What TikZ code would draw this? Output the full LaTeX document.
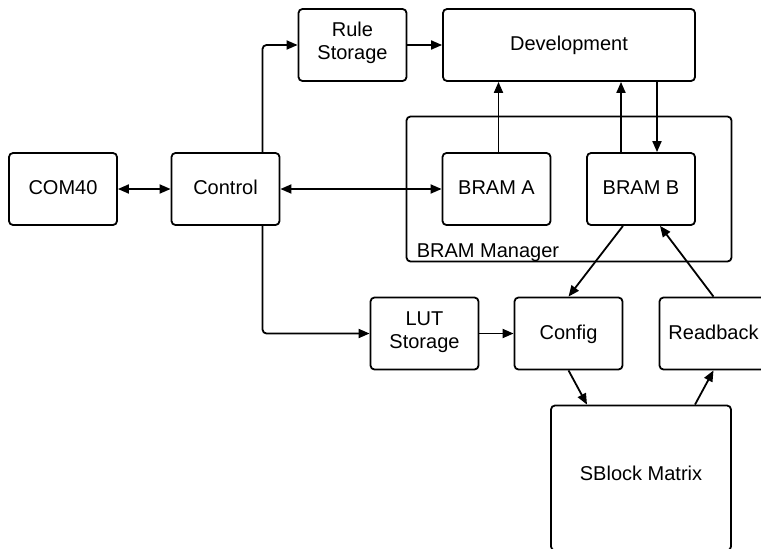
\documentclass[tikz,border=0pt]{standalone}
\usepackage{fontspec}
\setmainfont{Liberation Sans}
\usetikzlibrary{arrows.meta}

\begin{document}
\begin{tikzpicture}[x=1pt,y=-1pt,
  txt/.style={font=\fontsize{20}{23}\selectfont},
  frame/.style={draw, line width=1.8pt, rounded corners=4pt, inner sep=0pt, txt},
  blk/.style={frame, minimum width=108pt, minimum height=72pt, text height=15pt, text depth=4pt},
  blk2/.style={frame, minimum width=108pt, minimum height=72pt, align=center, text height=33pt, text depth=4pt},
  link/.style={line width=1.8pt, -{Triangle[length=11pt,width=9pt]}},
  bi/.style={line width=1.8pt, {Triangle[length=11pt,width=9pt]}-{Triangle[length=11pt,width=9pt]}}
]
\useasboundingbox (0,0) rectangle (761,549);
\clip (0,0) rectangle (761,549);

% container for the two block RAMs
\node[frame, minimum width=325pt, minimum height=145pt] (mgr) at (569,189) {};
\node[txt, anchor=base west, inner sep=0pt] (mgrlabel) at ([shift={(11pt,5pt)}]mgr.south west) {BRAM Manager};

% blocks
\node[blk] (com) at (63,189) {COM40};
\node[blk] (ctrl) at (225.5,189) {Control};
\node[blk2] (rule) at (352.5,45) {Rule\\Storage};
\node[blk, minimum width=252pt] (dev) at (569,45) {Development};
\node[blk] (bramA) at (496.5,189) {BRAM A};
\node[blk] (bramB) at (641,189) {BRAM B};
\node[blk2] (lut) at (424.5,333.5) {LUT\\Storage};
\node[blk] (cfg) at (568.5,333.5) {Config};
\node[blk] (rb) at (713.5,333.5) {Readback};
\node[blk, minimum width=180pt, minimum height=145pt, text height=9pt, text depth=4pt] (sb) at (641,478) {SBlock Matrix};

% connectors
\draw[bi] (com.east) -- (ctrl.west);
\draw[bi] (ctrl.east) -- (bramA.west);
\draw[link, rounded corners=4pt] ([xshift=37pt]ctrl.north) |- (rule.west);
\draw[link, rounded corners=4pt] ([xshift=37pt]ctrl.south) |- (lut.west);
\draw[link] (rule.east) -- (dev.west);
\draw[link] ([xshift=2pt]bramA.north) -- ([xshift=2pt]bramA.north |- dev.south);
\draw[link] ([xshift=-20pt]bramB.north) -- ([xshift=-20pt]bramB.north |- dev.south);
\draw[link] ([xshift=16pt]bramB.north |- dev.south) -- ([xshift=16pt]bramB.north);
\draw[link] ([xshift=-18pt]bramB.south) -- (cfg.north);
\draw[link] (rb.north) -- ([xshift=19pt]bramB.south);
\draw[link] (lut.east) -- (cfg.west);
\draw[link] (cfg.south) -- ([xshift=-54pt]sb.north);
\draw[link] ([xshift=54pt]sb.north) -- (rb.south);
\end{tikzpicture}
\end{document}
